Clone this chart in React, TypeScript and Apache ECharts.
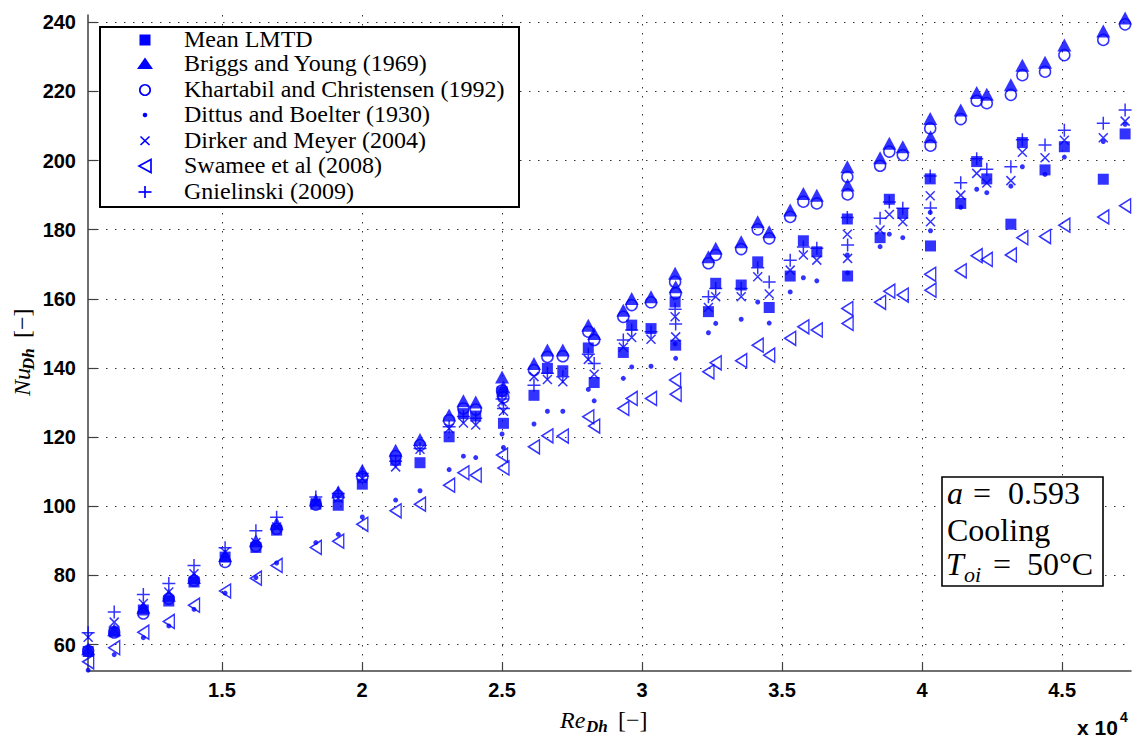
import React, { useEffect, useRef } from "react";
import * as echarts from "echarts";

// Reynolds number (Re_Dh) for each measurement point
const re = [
  10220, 11150, 12190, 13100, 14000, 15110, 16210, 16950, 18350, 19150,
  20010, 21200, 22070, 23110, 23620, 24060, 25000, 25050, 26140, 26620,
  27170, 28080, 28290, 29330, 29630, 30320, 31180, 31200, 32370, 32630,
  33540, 34130, 34540, 35290, 35760, 36240, 37330, 37340, 38500, 38830,
  39310, 40290, 40300, 41380, 41950, 42310, 43170, 43580, 44390, 45080,
  46470, 47250,
];

const meanLMTD = [
  58.0, 63.7, 70.0, 72.6, 78.1, 85.3, 88.1, 93.1, 100.6, 100.3,
  106.4, 113.3, 112.6, 120.1, 126.8, 126.1, 133.1, 124.0, 132.1, 139.9,
  139.2, 145.8, 135.8, 144.5, 152.4, 151.4, 159.1, 146.6, 156.3, 164.5,
  164.0, 170.7, 157.5, 166.6, 176.8, 173.6, 183.1, 166.6, 177.7, 188.8,
  184.7, 194.7, 175.3, 187.6, 199.7, 194.7, 181.6, 205.2, 197.3, 204.0,
  194.6, 207.7,
];

const briggsYoung = [
  58.8, 64.3, 70.8, 74.3, 79.4, 85.8, 90.0, 95.0, 101.8, 104.2,
  110.4, 116.2, 119.3, 126.4, 130.5, 130.2, 137.4, 134.5, 141.3, 145.2,
  145.2, 152.4, 150.0, 156.7, 160.1, 160.6, 167.4, 163.5, 172.2, 174.6,
  176.5, 182.3, 179.4, 185.7, 190.5, 190.0, 198.2, 192.9, 200.8, 205.0,
  204.0, 212.2, 206.9, 214.6, 219.7, 219.2, 221.9, 227.6, 228.4, 233.4,
  237.5, 241.2,
];

const khartabil = [
  58.2, 63.5, 69.0, 73.3, 78.5, 83.9, 88.5, 93.5, 100.5, 103.0,
  108.5, 114.5, 117.7, 124.9, 128.3, 128.0, 133.5, 131.5, 139.4, 143.2,
  143.4, 150.5, 148.1, 154.8, 158.2, 159.0, 164.9, 161.6, 170.3, 172.7,
  174.4, 180.1, 177.5, 183.7, 188.1, 187.6, 195.3, 190.2, 198.5, 202.6,
  201.6, 209.3, 204.3, 212.0, 217.3, 216.6, 219.0, 224.7, 225.7, 230.5,
  234.9, 239.4,
];

const dittusBoelter = [
  52.6, 57.1, 62.0, 65.4, 70.2, 74.9, 79.4, 83.6, 89.5, 91.9,
  96.9, 101.8, 104.5, 110.6, 114.5, 114.1, 120.9, 117.0, 123.8, 127.5,
  127.5, 133.8, 130.5, 137.0, 140.3, 140.5, 147.0, 142.8, 150.2, 152.9,
  154.1, 159.1, 153.0, 162.0, 166.1, 165.2, 172.7, 167.5, 175.1, 178.7,
  177.7, 185.0, 179.7, 186.5, 191.7, 190.7, 192.6, 198.2, 196.0, 201.0,
  205.5, 210.5,
];

const dirkerMeyer = [
  62.1, 66.5, 71.9, 75.2, 80.5, 86.8, 89.5, 94.0, 101.0, 102.3,
  108.0, 111.4, 116.5, 122.5, 124.1, 123.5, 130.2, 127.5, 137.5, 136.7,
  136.0, 142.5, 138.2, 146.0, 148.8, 148.3, 154.8, 149.0, 157.5, 160.6,
  160.6, 166.4, 161.4, 168.3, 172.7, 171.2, 178.7, 171.7, 179.9, 184.4,
  182.3, 189.8, 182.3, 190.0, 196.3, 193.5, 194.2, 202.4, 200.8, 205.9,
  206.6, 211.4,
];

const swamee = [
  55.0, 59.1, 63.6, 66.7, 71.4, 75.5, 79.2, 82.9, 88.1, 89.9,
  94.8, 98.7, 100.6, 106.1, 109.7, 109.0, 114.8, 111.1, 117.2, 120.4,
  120.3, 125.9, 123.2, 128.3, 131.2, 131.2, 136.5, 132.4, 138.9, 141.5,
  142.1, 146.6, 143.7, 148.6, 151.9, 151.0, 157.2, 152.9, 159.0, 162.2,
  161.1, 167.1, 162.5, 168.1, 172.5, 171.4, 172.7, 177.7, 178.0, 181.3,
  183.7, 186.9,
];

const gnielinski = [
  63.4, 69.4, 74.5, 77.7, 82.9, 88.0, 92.9, 96.8, 102.7, 103.7,
  109.5, 113.0, 116.7, 123.0, 126.0, 125.5, 131.0, 128.3, 135.0, 138.5,
  137.5, 144.0, 141.3, 148.1, 151.0, 150.5, 157.0, 152.7, 160.6, 163.0,
  163.0, 169.0, 164.9, 171.2, 175.0, 174.6, 183.5, 175.6, 183.3, 188.0,
  186.2, 195.5, 186.3, 193.6, 200.5, 197.5, 198.2, 206.0, 204.5, 208.8,
  210.8, 214.6,
];

const seriesNames = [
  "Mean LMTD",
  "Briggs and Young (1969)",
  "Khartabil and Christensen (1992)",
  "Dittus and Boelter (1930)",
  "Dirker and Meyer (2004)",
  "Swamee et al (2008)",
  "Gnielinski (2009)",
];

const xTicks = [15000, 20000, 25000, 30000, 35000, 40000, 45000];
const yTicks = [60, 80, 100, 120, 140, 160, 180, 200, 220, 240];

const BLUE = "#0000ff";
const SERIF = "'Liberation Serif', 'DejaVu Serif', serif";
const SANS = "'Liberation Sans', Arial, sans-serif";

const CROSS = "path://M0,0L10,10M10,0L0,10";
const PLUS = "path://M5,0L5,10M0,5L10,5";
const LTRI = "path://M0,7L11,0L11,14Z";

const filled = { color: BLUE };
const open = { color: "transparent", borderColor: BLUE, borderWidth: 1.5 };

export default function App() {
  const ref = useRef<HTMLDivElement>(null);

  useEffect(() => {
    const chart = echarts.init(ref.current!, null, { renderer: "svg" });

    const valueSets = [meanLMTD, briggsYoung, khartabil, dittusBoelter, dirkerMeyer, swamee, gnielinski];
    const styles: any[] = [
      { symbol: "rect", symbolSize: 11, itemStyle: filled },
      { symbol: "triangle", symbolSize: [14, 13], itemStyle: filled },
      { symbol: "circle", symbolSize: 11, itemStyle: open },
      { symbol: "circle", symbolSize: 5, itemStyle: filled },
      { symbol: CROSS, symbolSize: 9, itemStyle: open },
      { symbol: LTRI, symbolSize: [11, 14], itemStyle: open },
      { symbol: PLUS, symbolSize: 13, itemStyle: open },
    ];

    const series = valueSets.map((vals, k) => ({
      type: "scatter",
      name: seriesNames[k],
      data: re.map((x, i) => [x, vals[i]]),
      silent: true,
      ...styles[k],
    }));

    // legend graphics
    const lx = 145;
    const rowY = [39, 63, 88.5, 114, 140, 165, 190.5];
    const legendMarkers: any[] = [
      { type: "rect", shape: { x: lx - 5.5, y: 34.5, width: 11, height: 11 }, style: { fill: BLUE } },
      { type: "polygon", shape: { points: [[lx, 57.5], [lx + 8, 69], [lx - 8, 69]] }, style: { fill: BLUE } },
      { type: "circle", shape: { cx: lx, cy: 90, r: 5.2 }, style: { fill: "none", stroke: BLUE, lineWidth: 1.7 } },
      { type: "circle", shape: { cx: lx, cy: 115, r: 2.3 }, style: { fill: BLUE } },
      { type: "line", shape: { x1: lx - 4.5, y1: 136.5, x2: lx + 4.5, y2: 145 }, style: { stroke: BLUE, lineWidth: 1.7 } },
      { type: "line", shape: { x1: lx + 4.5, y1: 136.5, x2: lx - 4.5, y2: 145 }, style: { stroke: BLUE, lineWidth: 1.7 } },
      { type: "polygon", shape: { points: [[lx - 6, 166], [lx + 6, 159.5], [lx + 6, 172.5]] }, style: { fill: "none", stroke: BLUE, lineWidth: 1.7 } },
      { type: "line", shape: { x1: lx, y1: 186, x2: lx, y2: 198 }, style: { stroke: BLUE, lineWidth: 1.7 } },
      { type: "line", shape: { x1: lx - 6.5, y1: 192, x2: lx + 6.5, y2: 192 }, style: { stroke: BLUE, lineWidth: 1.7 } },
    ];
    const legendTexts = seriesNames.map((t, k) => ({
      type: "text",
      x: 184,
      y: rowY[k],
      style: { text: t, fontSize: 24, fontFamily: SERIF, fill: "#000", verticalAlign: "middle", align: "left" },
    }));

    const txt = (text: string, x: number, y: number, size: number, extra: any = {}, rot = 0) => ({
      type: "text",
      x,
      y,
      rotation: rot,
      style: { text, fontSize: size, fontFamily: SERIF, fill: "#000", verticalAlign: "middle", align: "left", ...extra },
    });
    const it = { fontStyle: "italic" };

    const graphic: any[] = [
      { type: "rect", shape: { x: 100, y: 27, width: 419, height: 180 }, style: { fill: "#fff", stroke: "#000", lineWidth: 2 }, z: 100 },
      ...legendMarkers.map((m) => ({ ...m, z: 101 })),
      ...legendTexts.map((m) => ({ ...m, z: 101 })),
      // annotation box
      { type: "rect", shape: { x: 942, y: 477, width: 161, height: 109 }, style: { fill: "#fff", stroke: "#000", lineWidth: 1.6 }, z: 100 },
      { ...txt("a", 947, 493, 32, it), z: 101 },
      { ...txt("=", 973, 493, 32), z: 101 },
      { ...txt("0.593", 1008, 493, 32), z: 101 },
      { ...txt("Cooling", 947, 529.5, 32), z: 101 },
      { ...txt("T", 946, 564, 32, it), z: 101 },
      { ...txt("oi", 964, 574, 22, it), z: 101 },
      { ...txt("=", 993, 564, 32), z: 101 },
      { ...txt("50°C", 1027, 564, 32), z: 101 },
      // x axis name
      txt("Re", 560, 720, 24, it),
      txt("Dh", 586, 726, 17, { fontStyle: "italic", fontWeight: "bold" }),
      txt("[−]", 618, 720, 24),
      // y axis name (rotated)
      txt("Nu", 22, 396, 24, it, Math.PI / 2),
      txt("Dh", 28, 370, 17, { fontStyle: "italic", fontWeight: "bold" }, Math.PI / 2),
      txt("[−]", 22, 338, 24, {}, Math.PI / 2),
      // exponent
      { type: "text", x: 1077, y: 727, style: { text: "x 10", fontSize: 21, fontWeight: "bold", fontFamily: SANS, fill: "#000", verticalAlign: "middle" } },
      { type: "text", x: 1120, y: 717, style: { text: "4", fontSize: 14, fontWeight: "bold", fontFamily: SANS, fill: "#000", verticalAlign: "middle" } },
    ];

    const axisLineStyle = { color: "#404040", width: 1.5 };
    const gridLine = { show: true, lineStyle: { type: [1.5, 7.5], color: "#333", width: 1 } };
    const labelStyle = { fontSize: 20, fontWeight: "bold", fontFamily: SANS, color: "#000" };

    const option: any = {
      animation: false,
      backgroundColor: "#fff",
      grid: { left: 88, right: 1, top: 15, bottom: 67, containLabel: false },
      xAxis: {
        type: "value",
        min: 10214,
        max: 47460,
        axisLine: { show: true, onZero: false, lineStyle: axisLineStyle },
        axisTick: { show: true, inside: true, length: 9, customValues: xTicks, lineStyle: { color: "#404040", width: 1.2 } },
        axisLabel: { ...labelStyle, margin: 9, customValues: xTicks, formatter: (v: number) => String(v / 10000) },
        splitLine: gridLine,
      },
      yAxis: {
        type: "value",
        min: 52.36,
        max: 242.1,
        axisLine: { show: true, onZero: false, lineStyle: axisLineStyle },
        axisTick: { show: true, inside: true, length: 9, customValues: yTicks, lineStyle: { color: "#404040", width: 1.2 } },
        axisLabel: { ...labelStyle, margin: 12, customValues: yTicks },
        splitLine: gridLine,
      },
      series,
      graphic,
    };

    chart.setOption(option);
    return () => chart.dispose();
  }, []);

  return (
    <div
      ref={ref}
      style={{ position: "fixed", left: 0, top: 0, width: 1132, height: 738, background: "#fff" }}
    />
  );
}
